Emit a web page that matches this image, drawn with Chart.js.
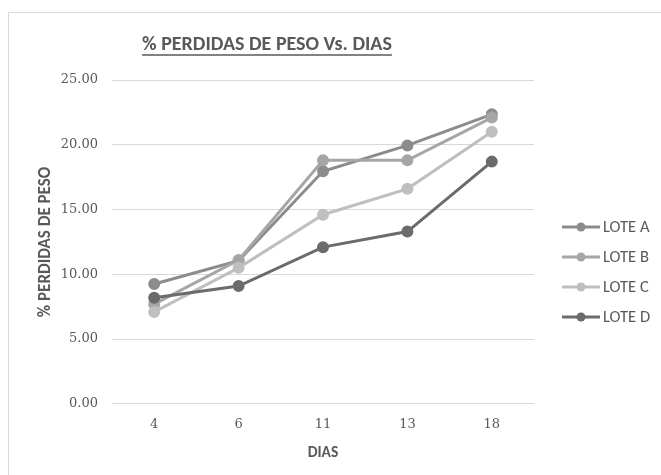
<!DOCTYPE html>
<html>
<head>
<meta charset="utf-8">
<script src="https://cdn.jsdelivr.net/npm/chart.js@4/dist/chart.umd.min.js"></script>
<style>
  html, body { margin: 0; padding: 0; background: #ffffff; }
  #wrap { position: relative; width: 661px; height: 475px; }
</style>
</head>
<body>
<div id="wrap"><canvas id="chart" width="661" height="475"></canvas></div>
<script>
// Días de muestreo y % de pérdida de peso por lote
const dias = ['4', '6', '11', '13', '18'];
const loteA = [9.25, 11.05, 17.95, 19.95, 22.35];
const loteB = [7.70, 11.10, 18.80, 18.80, 22.10];
const loteC = [7.10, 10.50, 14.60, 16.60, 21.00];
const loteD = [8.20, 9.10, 12.10, 13.30, 18.70];
const yTicks = [0, 5, 10, 15, 20, 25];

const seriesNames = ['LOTE A', 'LOTE B', 'LOTE C', 'LOTE D'];
const seriesData = [loteA, loteB, loteC, loteD];
const seriesColors = ['#8c8c8c', '#a6a6a6', '#bfbfbf', '#6b6b6b'];

const sansFont = "Carlito, 'Liberation Sans Narrow', 'Open Sans', sans-serif";
const serifFont = "'DejaVu Serif', serif";
const textColor = '#595959';

// Outer frame of the chart object
const framePlugin = {
  id: 'frame',
  beforeDraw(chart) {
    const ctx = chart.ctx;
    ctx.save();
    ctx.fillStyle = '#ffffff';
    ctx.fillRect(0, 0, chart.width, chart.height);
    ctx.strokeStyle = '#d9d9d9';
    ctx.lineWidth = 1;
    ctx.strokeRect(8.5, 12.5, chart.width + 20, chart.height + 20);
    ctx.restore();
  }
};

// Underline beneath the chart title
const titleUnderline = {
  id: 'titleUnderline',
  afterDraw(chart) {
    const t = chart.titleBlock;
    if (!t) return;
    const ctx = chart.ctx;
    const o = chart.options.plugins.title;
    ctx.save();
    ctx.font = `${o.font.weight || 'normal'} ${o.font.size}px ${o.font.family}`;
    const w = ctx.measureText(o.text).width;
    const cx = (t.left + t.right) / 2;
    const y = t.top + o.padding.top + o.font.size * 1.2 / 2 + o.font.size * 0.5;
    ctx.strokeStyle = textColor;
    ctx.lineWidth = 1.4;
    ctx.beginPath();
    ctx.moveTo(cx - w / 2, y);
    ctx.lineTo(cx + w / 2, y);
    ctx.stroke();
    ctx.restore();
  }
};

// Legend on the right: line with marker, followed by the series name
const sideLegend = {
  id: 'sideLegend',
  afterDraw(chart) {
    const ctx = chart.ctx;
    const area = chart.chartArea;
    const x0 = area.right + 28;
    const yStart = 227;
    const step = 30;
    ctx.save();
    chart.data.datasets.forEach((ds, i) => {
      const y = yStart + i * step;
      ctx.strokeStyle = ds.borderColor;
      ctx.lineWidth = 3;
      ctx.beginPath();
      ctx.moveTo(x0, y);
      ctx.lineTo(x0 + 38, y);
      ctx.stroke();
      ctx.fillStyle = ds.backgroundColor;
      ctx.beginPath();
      ctx.arc(x0 + 19, y, 4.5, 0, Math.PI * 2);
      ctx.fill();
      ctx.fillStyle = textColor;
      ctx.font = `16.5px ${sansFont}`;
      ctx.textBaseline = 'middle';
      ctx.textAlign = 'left';
      ctx.fillText(ds.label, x0 + 41, y + 1);
    });
    ctx.restore();
  }
};

const datasets = seriesNames.map((name, i) => ({
  label: name,
  data: seriesData[i],
  borderColor: seriesColors[i],
  backgroundColor: seriesColors[i],
  pointBackgroundColor: seriesColors[i],
  pointBorderColor: seriesColors[i],
  borderWidth: 3,
  pointRadius: 4.5,
  pointHoverRadius: 4.5,
  tension: 0,
  order: seriesNames.length - i
}));

new Chart(document.getElementById('chart'), {
  type: 'line',
  data: { labels: dias, datasets },
  options: {
    responsive: false,
    animation: false,
    devicePixelRatio: 1,
    layout: { padding: { left: 0, right: 127, top: 0, bottom: 0 } },
    plugins: {
      legend: { display: false },
      tooltip: { enabled: false },
      title: {
        display: true,
        text: '% PERDIDAS DE PESO Vs. DIAS',
        color: textColor,
        font: { family: sansFont, size: 20, weight: 'bold' },
        padding: { top: 33, bottom: 23 }
      }
    },
    scales: {
      x: {
        offset: true,
        grid: { display: false, drawTicks: false },
        border: { display: false },
        ticks: { color: textColor, font: { family: serifFont, size: 13 }, padding: 13 },
        title: {
          display: true,
          text: 'DIAS',
          color: textColor,
          font: { family: sansFont, size: 15.5, weight: 'bold', lineHeight: 1.0 },
          padding: { top: 0, bottom: 14 }
        }
      },
      y: {
        min: 0,
        max: 25,
        afterBuildTicks(scale) { scale.ticks = yTicks.map(v => ({ value: v })); },
        afterFit(scale) { scale.width = 112; },
        grid: { color: '#d9d9d9', lineWidth: 1, drawTicks: false },
        border: { display: false },
        ticks: {
          color: textColor,
          font: { family: serifFont, size: 13 },
          padding: 14,
          callback: v => Number(v).toFixed(2)
        },
        title: {
          display: true,
          text: '% PERDIDAS DE PESO',
          color: textColor,
          font: { family: sansFont, size: 17, weight: 'bold', lineHeight: 1.0 },
          padding: { top: 37, bottom: 0 }
        }
      }
    }
  },
  plugins: [framePlugin, titleUnderline, sideLegend]
});
</script>
</body>
</html>
